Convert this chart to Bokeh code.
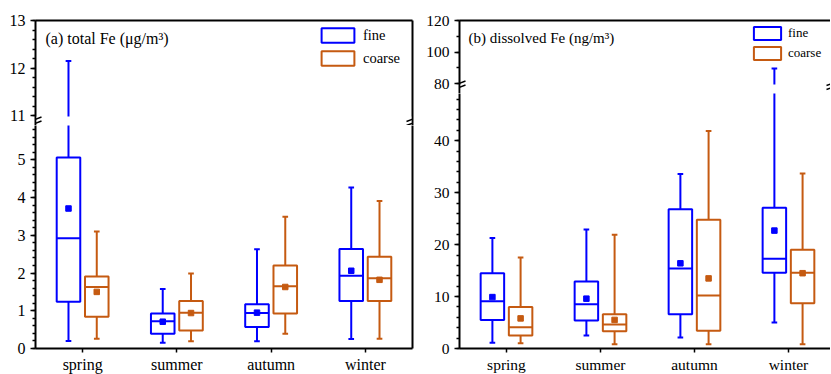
import numpy as np
from bokeh.plotting import figure
from bokeh.layouts import row, column
from bokeh.models import (Range1d, FixedTicker, LinearAxis, Legend, LegendItem,
                          Label, Arrow, BoxAnnotation, ColumnDataSource)
from bokeh.embed import file_html
from bokeh.resources import INLINE

seasons = ["spring", "summer", "autumn", "winter"]

# (a) total Fe (ug/m3)
total_fine_min = [0.20, 0.15, 0.19, 0.25]
total_fine_q1 = [1.24, 0.39, 0.57, 1.26]
total_fine_med = [2.92, 0.72, 0.94, 1.93]
total_fine_q3 = [5.06, 0.93, 1.17, 2.64]
total_fine_max = [12.15, 1.58, 2.63, 4.27]
total_fine_mean = [3.71, 0.71, 0.95, 2.06]

total_coarse_min = [0.26, 0.19, 0.39, 0.26]
total_coarse_q1 = [0.84, 0.48, 0.93, 1.26]
total_coarse_med = [1.63, 0.95, 1.65, 1.86]
total_coarse_q3 = [1.91, 1.26, 2.20, 2.43]
total_coarse_max = [3.10, 1.99, 3.49, 3.91]
total_coarse_mean = [1.50, 0.94, 1.63, 1.82]

# (b) dissolved Fe (ng/m3)
dis_fine_min = [1.1, 2.5, 2.1, 5.0]
dis_fine_q1 = [5.5, 5.4, 6.6, 14.6]
dis_fine_med = [9.1, 8.5, 15.4, 17.3]
dis_fine_q3 = [14.5, 12.9, 26.8, 27.1]
dis_fine_max = [21.3, 22.9, 33.6, 89.5]
dis_fine_mean = [9.9, 9.6, 16.4, 22.7]

dis_coarse_min = [1.0, 0.8, 0.8, 0.8]
dis_coarse_q1 = [2.5, 3.3, 3.4, 8.7]
dis_coarse_med = [4.1, 4.6, 10.2, 14.6]
dis_coarse_q3 = [8.0, 6.6, 24.8, 19.0]
dis_coarse_max = [17.5, 21.9, 41.9, 33.7]
dis_coarse_mean = [5.8, 5.5, 13.5, 14.5]

FONT = "Liberation Serif"
FINE = "#0000FF"
COARSE = "#C55A11"
LW = 2
HALF = 0.125
CAP = 0.03
OFF = 0.15


def make_fig(xr, yr, fw, fh, bl, br, bt, bb):
    p = figure(x_range=xr, y_range=yr, frame_width=fw, frame_height=fh,
               min_border_left=bl, min_border_right=br, min_border_top=bt,
               min_border_bottom=bb, output_backend="svg", toolbar_location=None,
               x_axis_location=None, y_axis_location=None)
    p.outline_line_color = None
    p.grid.visible = False
    p.background_fill_color = "white"
    p.border_fill_color = "white"
    return p


def draw_boxes(p, mn, q1, med, q3, mx, mean, color, offset):
    x = np.arange(len(seasons)) + offset
    src = ColumnDataSource(dict(x=x, xl=x - HALF, xr=x + HALF, cl=x - CAP, cr=x + CAP,
                                mn=mn, q1=q1, med=med, q3=q3, mx=mx, mean=mean))
    kw = dict(source=src, line_color=color, line_width=LW)
    p.segment("x", "q3", "x", "mx", **kw)
    p.segment("x", "q1", "x", "mn", **kw)
    p.segment("cl", "mx", "cr", "mx", **kw)
    p.segment("cl", "mn", "cr", "mn", **kw)
    box = p.quad(left="xl", right="xr", bottom="q1", top="q3", fill_color=None, **kw)
    p.segment("xl", "med", "xr", "med", **kw)
    p.scatter("x", "mean", marker="square", size=5.5, source=src,
              fill_color=color, line_color=color)
    return box


def y_axis(ticks, minor, size, standoff):
    ax = LinearAxis(ticker=FixedTicker(ticks=ticks, minor_ticks=minor))
    ax.axis_line_width = 2
    ax.major_tick_out = 5
    ax.major_tick_in = 0
    ax.major_tick_line_width = 1.5
    ax.minor_tick_out = 3
    ax.minor_tick_in = 0
    ax.minor_tick_line_width = 1.5
    ax.major_label_text_font = FONT
    ax.major_label_text_font_size = size
    ax.major_label_text_color = "black"
    ax.major_label_standoff = standoff
    return ax


def plain_axis():
    return LinearAxis(ticker=FixedTicker(ticks=[]), major_tick_out=0, major_tick_in=0,
                      minor_tick_out=0, minor_tick_in=0, major_label_standoff=0,
                      axis_line_width=2, major_label_text_font_size="0px")


def x_axis(size):
    ax = LinearAxis(ticker=FixedTicker(ticks=list(range(len(seasons)))))
    ax.major_label_overrides = {i: s for i, s in enumerate(seasons)}
    ax.axis_line_width = 2
    ax.major_tick_out = 4
    ax.major_tick_in = 0
    ax.major_tick_line_width = 1.5
    ax.minor_tick_out = 0
    ax.minor_tick_in = 0
    ax.major_label_text_font = FONT
    ax.major_label_text_font_size = size
    ax.major_label_text_color = "black"
    ax.major_label_standoff = 3
    return ax


def build_panel(x_end, fw, up_lo, up_hi, up_fh, break_px, lo_range, lo_fh, bl, br,
                up_ticks, up_minor, lo_ticks, lo_minor, stats, tick_size, standoff,
                title, title_size, title_xy, legend_loc, legend_glyph, legend_size,
                legend_h, legend_spacing, legend_standoff, right_frame, mark_lines, mark_xs):
    xr = Range1d(-0.5, x_end)
    # upper frame includes the break band (break_px tall) below the first upper tick
    unit_px = up_fh / (up_hi - up_lo)
    up_start = up_lo - break_px / unit_px
    p_up = make_fig(xr, Range1d(up_start, up_hi), fw, up_fh + break_px, bl, br, 20, 0)
    p_lo = make_fig(xr, lo_range, fw, lo_fh, bl, br, 0, 26)
    boxes = []
    for p in (p_up, p_lo):
        b1 = draw_boxes(p, *stats[0], FINE, -OFF)
        b2 = draw_boxes(p, *stats[1], COARSE, OFF)
        boxes.append((b1, b2))
    p_up.add_layout(y_axis(up_ticks, up_minor, tick_size, standoff), "left")
    p_lo.add_layout(y_axis(lo_ticks, lo_minor, tick_size, standoff), "left")
    p_up.add_layout(plain_axis(), "above")
    p_lo.add_layout(x_axis(tick_size), "below")
    if right_frame:
        p_up.add_layout(plain_axis(), "right")
        p_lo.add_layout(plain_axis(), "right")
    # blank band of the axis break
    px = 1.0 / (fw / (x_end + 0.5))
    p_up.add_layout(BoxAnnotation(left=-0.5 + 1.2 * px, right=x_end - 1.2 * px,
                                  bottom=up_start - 1, top=up_lo - 1.0 / unit_px,
                                  fill_color="white", fill_alpha=1, line_color=None,
                                  level="annotation"))
    for xc in mark_xs:
        for (dx0, y0, dx1, y1) in mark_lines:
            p_up.add_layout(Arrow(end=None, x_start=xc + dx0, y_start=y0,
                                  x_end=xc + dx1, y_end=y1, start_units="screen",
                                  end_units="screen", line_color="black", line_width=1.5))
    p_up.add_layout(Label(x=title_xy[0], y=title_xy[1], x_units="screen", y_units="screen",
                          text=title, text_font=FONT, text_font_size=title_size,
                          text_baseline="middle", text_color="black"))
    legend = Legend(items=[LegendItem(label="fine", renderers=[boxes[0][0]]),
                           LegendItem(label="coarse", renderers=[boxes[0][1]])],
                    location=legend_loc, orientation="vertical", padding=0, margin=0,
                    spacing=legend_spacing, glyph_width=legend_glyph[0],
                    glyph_height=legend_glyph[1], label_height=legend_h,
                    label_standoff=legend_standoff, label_text_font=FONT,
                    label_text_font_size=legend_size, label_text_color="black",
                    border_line_color=None, background_fill_alpha=0)
    p_up.add_layout(legend)
    return column(p_up, p_lo)


stats_a = [
    (total_fine_min, total_fine_q1, total_fine_med, total_fine_q3, total_fine_max, total_fine_mean),
    (total_coarse_min, total_coarse_q1, total_coarse_med, total_coarse_q3, total_coarse_max, total_coarse_mean),
]
stats_b = [
    (dis_fine_min, dis_fine_q1, dis_fine_med, dis_fine_q3, dis_fine_max, dis_fine_mean),
    (dis_coarse_min, dis_coarse_q1, dis_coarse_med, dis_coarse_q3, dis_coarse_max, dis_coarse_mean),
]

col_a = build_panel(
    x_end=3.5, fw=377, up_lo=11, up_hi=13, up_fh=95, break_px=10,
    lo_range=Range1d(0, 5.91), lo_fh=223, bl=35, br=7,
    up_ticks=[11, 12, 13], up_minor=list(np.arange(11, 13.001, 0.2)),
    lo_ticks=[0, 1, 2, 3, 4, 5], lo_minor=list(np.arange(0, 5.85, 0.2)),
    stats=stats_a, tick_size="16px", standoff=5,
    title="(a) total Fe (\u03bcg/m\u00b3)", title_size="16px", title_xy=(10, 87),
    legend_loc=(282, 58), legend_glyph=(41, 18), legend_size="14.5px",
    legend_h=18, legend_spacing=5, legend_standoff=5, right_frame=True,
    mark_lines=[(-6, 4, 6, 8.5), (-6, 0, 6, 4.5)], mark_xs=[0, 377])

col_b = build_panel(
    x_end=3.447, fw=371, up_lo=80, up_hi=120, up_fh=63, break_px=10,
    lo_range=Range1d(0, 49.1), lo_fh=255, bl=40, br=0,
    up_ticks=[80, 100, 120], up_minor=list(np.arange(80, 120.001, 10)),
    lo_ticks=[0, 10, 20, 30, 40], lo_minor=list(np.arange(0, 49, 2)),
    stats=stats_b, tick_size="15.5px", standoff=5,
    title="(b) dissolved Fe (ng/m\u00b3)", title_size="15px", title_xy=(9, 56),
    legend_loc=(291, 32), legend_glyph=(34, 16), legend_size="13px",
    legend_h=16, legend_spacing=4, legend_standoff=4, right_frame=False,
    mark_lines=[(-6, 8, 6, 12.5), (-6, 4, 6, 8.5)], mark_xs=[0, 373])

layout = row(col_a, col_b)

open("out.html", "w").write(file_html(layout, INLINE))
